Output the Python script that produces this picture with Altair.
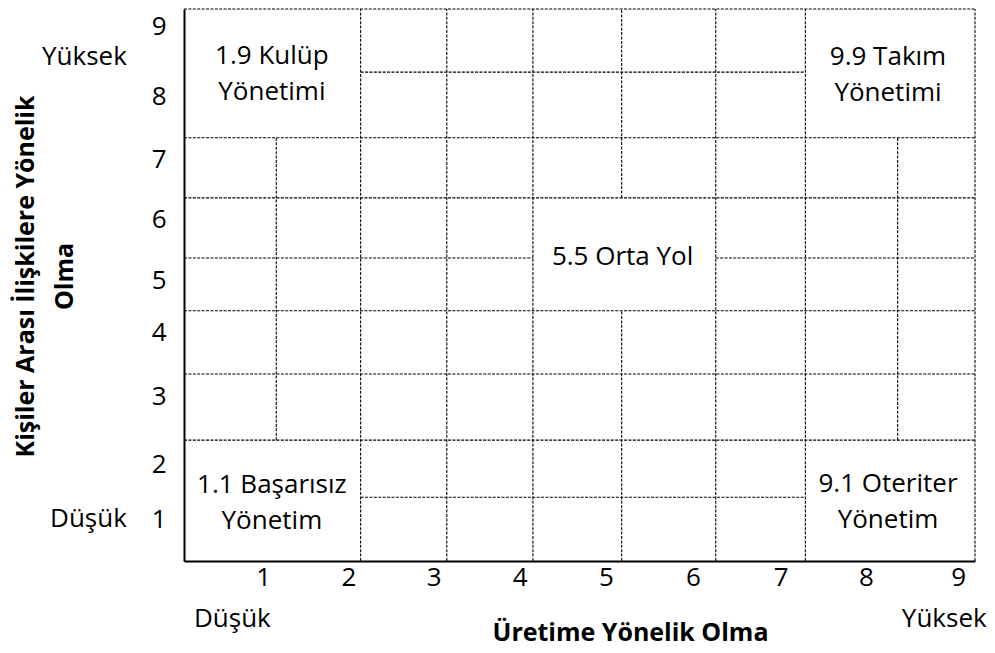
import altair as alt
import pandas as pd

# ---- Managerial grid (Blake & Mouton) as drawn, in scale units 0..9 ----
# vertical grid segments: x position, from y1 to y2
v_x = [1.05, 2.01, 2.99, 3.97, 4.98, 4.98, 6.05, 7.07, 8.12, 9.0]
v_y1 = [1.97, 0.0, 0.0, 0.0, 0.0, 5.92, 0.0, 0.0, 1.97, 0.0]
v_y2 = [6.90, 9.0, 9.0, 9.0, 4.08, 9.0, 9.0, 9.0, 6.90, 9.0]
# horizontal grid segments: y position, from x1 to x2
h_y = [9.0, 7.97, 6.90, 5.92, 4.94, 4.94, 4.08, 3.05, 1.97, 1.04]
h_x1 = [0.0, 2.01, 0.0, 0.0, 0.0, 6.05, 0.0, 0.0, 0.0, 2.01]
h_x2 = [9.0, 7.07, 9.0, 9.0, 3.97, 9.0, 9.0, 9.0, 9.0, 7.07]

# tick labels and where they sit
x_tick_labels = ["1", "2", "3", "4", "5", "6", "7", "8", "9"]
x_tick_pos = [0.90, 1.87, 2.84, 3.82, 4.80, 5.79, 6.79, 7.76, 8.81]
y_tick_labels = ["1", "2", "3", "4", "5", "6", "7", "8", "9"]
y_tick_pos = [0.68, 1.58, 2.69, 3.73, 4.58, 5.56, 6.54, 7.57, 8.72]

# style labels inside the grid
cell_texts = ["1.9 Kulüp\nYönetimi", "9.9 Takım\nYönetimi", "5.5 Orta Yol",
              "1.1 Başarısız\nYönetim", "9.1 Oteriter\nYönetim"]
cell_x = [1.0, 8.01, 4.99, 1.0, 8.01]
cell_y = [8.10, 8.09, 4.83, 1.11, 1.125]

# low / high annotations
y_end_texts = ["Yüksek", "Düşük"]
y_end_x = [-0.65, -0.65]
y_end_y = [8.22, 0.68]
x_end_texts = ["Düşük", "Yüksek"]
x_end_x = [0.55, 8.65]
x_end_y = [-1.08, -1.08]

x_title = "Üretime Yönelik Olma"
y_title = ["Kişiler Arası İlişkilere Yönelik", "Olma"]

FONT = "Open Sans"


def label_expr(pos, labels):
    expr = "''"
    for p, l in reversed(list(zip(pos, labels))):
        expr = f"datum.value == {p} ? '{l}' : ({expr})"
    return expr


seg = pd.DataFrame({
    "x1": v_x + h_x1,
    "x2": v_x + h_x2,
    "y1": v_y1 + h_y,
    "y2": v_y2 + h_y,
})
cells = pd.DataFrame({"t": cell_texts, "x1": cell_x, "y1": cell_y})
yends = pd.DataFrame({"t": y_end_texts, "x1": y_end_x, "y1": y_end_y})
xends = pd.DataFrame({"t": x_end_texts, "x1": x_end_x, "y1": x_end_y})

x_scale = alt.Scale(domain=[0, 9], nice=False, zero=False)
y_scale = alt.Scale(domain=[0, 9], nice=False, zero=False)

x_axis = alt.Axis(
    values=x_tick_pos, labelExpr=label_expr(x_tick_pos, x_tick_labels),
    ticks=False, tickSize=0, grid=False, domainColor="black", domainWidth=2,
    labelFont=FONT, labelFontSize=26, labelColor="black", labelPadding=3,
    labelFlush=False, labelOverlap=False, labelBaseline="top",
    title=x_title, titleFont=FONT, titleFontSize=25, titleFontWeight="bold",
    titleColor="black", titleX=446, titleY=79, titleAlign="center",
    titleBaseline="alphabetic",
)
y_axis = alt.Axis(
    values=y_tick_pos, labelExpr=label_expr(y_tick_pos, y_tick_labels),
    ticks=False, tickSize=0, grid=False, domainColor="black", domainWidth=2,
    labelFont=FONT, labelFontSize=26, labelColor="black", labelPadding=18,
    labelFlush=False, labelOverlap=False, labelAlign="right", labelBaseline="middle",
    title=y_title, titleFont=FONT, titleFontSize=25, titleFontWeight="bold",
    titleColor="black", titleAngle=270, titleX=-159, titleY=267,
    titleAlign="center", titleBaseline="middle", titleLineHeight=39,
)

rules = alt.Chart(seg).mark_rule(
    color="black", strokeWidth=1.1, strokeDash=[3, 1.4]
).encode(
    x=alt.X("x1:Q", scale=x_scale, axis=x_axis),
    x2="x2:Q",
    y=alt.Y("y1:Q", scale=y_scale, axis=y_axis),
    y2="y2:Q",
)

cell_layer = alt.Chart(cells).mark_text(
    font=FONT, fontSize=26, lineBreak="\n", lineHeight=36,
    baseline="alphabetic", align="center", color="black",
).encode(x="x1:Q", y="y1:Q", text="t:N")

yend_layer = alt.Chart(yends).mark_text(
    font=FONT, fontSize=26, baseline="middle", align="right", color="black",
).encode(x="x1:Q", y="y1:Q", text="t:N")

xend_layer = alt.Chart(xends).mark_text(
    font=FONT, fontSize=26, baseline="alphabetic", align="center", color="black",
).encode(x="x1:Q", y="y1:Q", text="t:N")

chart = alt.layer(rules, cell_layer, yend_layer, xend_layer).properties(
    width=791, height=552,
    padding={"left": 176, "top": 1, "right": 12, "bottom": 88},
    autosize=alt.AutoSizeParams(type="none"),
    background="white",
).configure_view(strokeWidth=0)

chart.save("out.html", embed_options={"renderer": "svg", "actions": False})
